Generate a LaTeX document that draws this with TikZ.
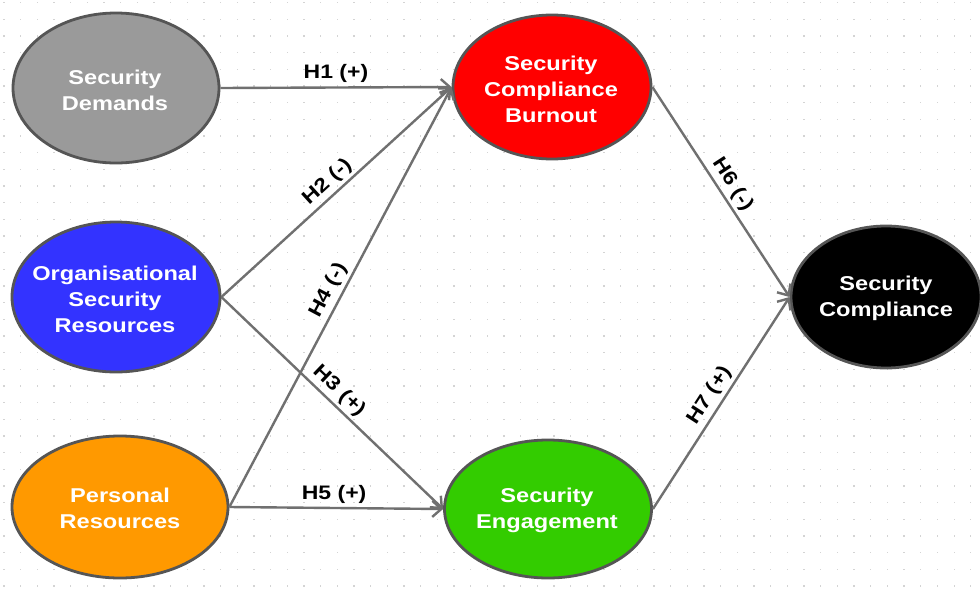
\documentclass[tikz,border=0pt]{standalone}
\usepackage{fontspec}
\setmainfont{Liberation Sans}[FakeStretch=1.18]
\usetikzlibrary{shapes.geometric,arrows.meta}
\definecolor{dotc}{HTML}{D4D4D4}
\definecolor{edgec}{HTML}{707070}
\definecolor{rimc}{HTML}{555555}
\definecolor{sdfill}{HTML}{9A9A9A}
\definecolor{bofill}{HTML}{FF0000}
\definecolor{osrfill}{HTML}{3333FF}
\definecolor{prfill}{HTML}{FF9900}
\definecolor{sefill}{HTML}{33CC00}
\definecolor{scfill}{HTML}{000000}
\begin{document}
\begin{tikzpicture}[x=1pt,y=-1pt,
  blob/.style={ellipse, draw=rimc, line width=2.8pt, inner sep=0pt},
  blobtext/.style={text=white, font=\fontsize{20}{26}\selectfont\bfseries, align=center, inner sep=0pt},
  hyp/.style={draw=edgec, line width=2.4pt, -{Straight Barb[length=9pt,width=16pt]}},
  hlabel/.style={font=\fontsize{19.5}{24}\selectfont\bfseries, text=black}
]
\useasboundingbox (0,0) rectangle (980,595);
\clip (0,0) rectangle (980,595);
\fill[white] (0,0) rectangle (980,595);
% dotted grid
\foreach \i in {0,...,58} {
  \foreach \j in {0,...,35} {
    \fill[dotc] (3.3+16.67*\i, 2+16.67*\j) rectangle ++(1.3,1.3);
  }
}
% nodes
\node[blob, fill=sdfill, minimum width=206pt, minimum height=150pt] (sd) at (116,88) {};
\node[blob, fill=osrfill, minimum width=208pt, minimum height=150pt] (osr) at (116,297) {};
\node[blob, fill=prfill, minimum width=216pt, minimum height=142pt] (pr) at (120,507) {};
\node[blob, fill=bofill, minimum width=198pt, minimum height=144pt] (bo) at (552,87) {};
\node[blob, fill=sefill, minimum width=207pt, minimum height=138pt] (se) at (548,509) {};
\node[blob, fill=scfill, minimum width=190pt, minimum height=142pt] (sc) at (886,297) {};
% texts
\node[blobtext] (sdt) at (115,90) {Security\\Demands};
\node[blobtext] (osrt) at (115,299) {Organisational\\Security\\Resources};
\node[blobtext] (prt) at (120,508) {Personal\\Resources};
\node[blobtext] (bot) at (551,89) {Security\\Compliance\\Burnout};
\node[blobtext] (set) at (547,510) {Security\\Engagement};
\node[blobtext] (sct) at (886,298) {Security\\Compliance};
% connectors
\draw[hyp] (sd.east) -- node[hlabel, above, pos=0.5] (h1) {H1 (+)} (bo.west);
\draw[hyp] (osr.east) -- node[hlabel, sloped, above, pos=0.5] (h2) {H2 (-)} (bo.west);
\draw[hyp] (pr.east) -- node[hlabel, sloped, above, pos=0.5] (h4) {H4 (-)} (bo.west);
\draw[hyp] (osr.east) -- node[hlabel, sloped, above, pos=0.49] (h3) {H3 (+)} (se.west);
\draw[hyp] (pr.east) -- node[hlabel, above, pos=0.49] (h5) {H5 (+)} (se.west);
\draw[hyp] (bo.east) -- node[hlabel, sloped, above, pos=0.5] (h6) {H6 (-)} (sc.west);
\draw[hyp] (se.east) -- node[hlabel, sloped, above, pos=0.5] (h7) {H7 (+)} (sc.west);
\end{tikzpicture}
\end{document}
